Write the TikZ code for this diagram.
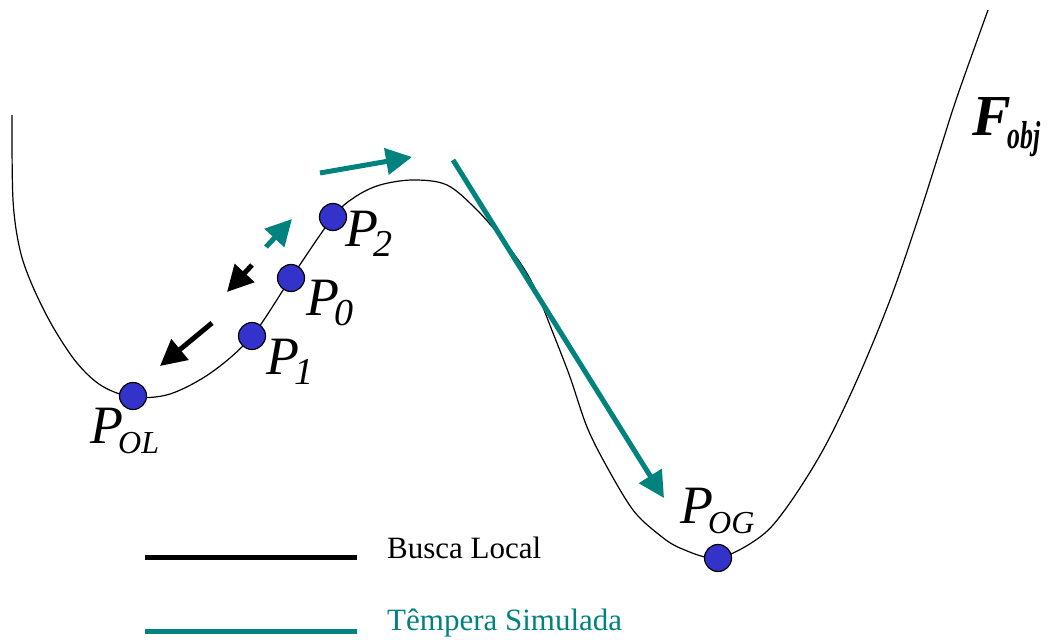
\documentclass[tikz,border=0pt]{standalone}
\usepackage{fontspec}
\setmainfont{Liberation Serif}
\usetikzlibrary{arrows.meta}
\definecolor{ttl}{HTML}{00827F}
\definecolor{dotblue}{HTML}{3333CC}
\newcommand{\plab}[2][32]{{\fontsize{54}{54}\selectfont\itshape P\kern-5pt\raisebox{-10pt}{\fontsize{#1}{#1}\selectfont #2}}}
\begin{document}
\begin{tikzpicture} [x=1pt, y=-1pt,
    >={Triangle[length=26pt, width=26pt]},
    pt/.style={circle, draw, fill=dotblue, line width=1.2pt, minimum size=27pt, inner sep=0pt},
    lab/.style={anchor=base west, inner sep=0pt},
    move/.style={line width=5pt, ->}]
  \useasboundingbox (0,0) rectangle (1056,639);

  % objective function
  \draw[line width=1.2pt] plot[smooth, tension=0.55] coordinates {(12,115) (13,200) (20,250) (33,287) (53,327)
    (77,363) (102,386) (133,397) (170,394) (212,372) (252,336) (291,278) (333,217) (355,197)
    (380,185) (413,180) (447,185) (477,210) (503,240) (523,267) (537,293) (553,333) (570,377)
    (587,427) (607,467) (633,510) (657,533) (680,548) (718,558) (760,537) (787,507)
    (823,450) (857,380) (890,300) (917,222) (940,150) (957,97) (988,10)};

  \node[pt] (POL) at (133,396) {};
  \node[pt] (P1) at (252,336) {};
  \node[pt] (P0) at (291,278) {};
  \node[pt] (P2) at (333,217) {};
  \node[pt] (POG) at (718,558) {};

  \node[lab] (lOL) at (90,443) {\plab{OL}};
  \node[lab] (l1) at (266,374) {\plab[38]{1}};
  \node[lab] (l0) at (306,315) {\plab[38]{0}};
  \node[lab] (l2) at (345,246) {\plab[38]{2}};
  \node[lab] (lOG) at (680,523) {\plab{OG}};
  \node[lab] (F) at (972,136) {\fontsize{58}{58}\selectfont\bfseries\itshape F\kern-3pt\raisebox{-13pt}{\scalebox{0.66}[1]{\fontsize{39}{39}\selectfont obj}}};

  % search moves
  \coordinate (a1) at (212,323);
  \coordinate (a1e) at (160,366);
  \coordinate (a2) at (252,265);
  \coordinate (a2e) at (227,292);
  \coordinate (a3) at (266,247);
  \coordinate (a3e) at (292,219);
  \coordinate (a4) at (320,173);
  \coordinate (a4e) at (412,157);
  \coordinate (a5) at (453,160);
  \coordinate (a5e) at (664,498);
  \draw[move] (a1) -- (a1e);
  \draw[move] (a2) -- (a2e);
  \draw[move, ttl] (a3) -- (a3e);
  \draw[move, ttl] (a4) -- (a4e);
  \draw[move, ttl] (a5) -- (a5e);

  % legend
  \coordinate (k1) at (145,557);
  \coordinate (k1e) at (357,557);
  \coordinate (k2) at (145,631);
  \coordinate (k2e) at (357,631);
  \draw[line width=5pt] (k1) -- (k1e);
  \draw[line width=5pt, ttl] (k2) -- (k2e);
  \node[lab] (t1) at (387,558) {\fontsize{31}{31}\selectfont Busca Local};
  \node[lab, text=ttl] (t2) at (387,630) {\fontsize{31}{31}\selectfont Têmpera Simulada};
\end{tikzpicture}
\end{document}
